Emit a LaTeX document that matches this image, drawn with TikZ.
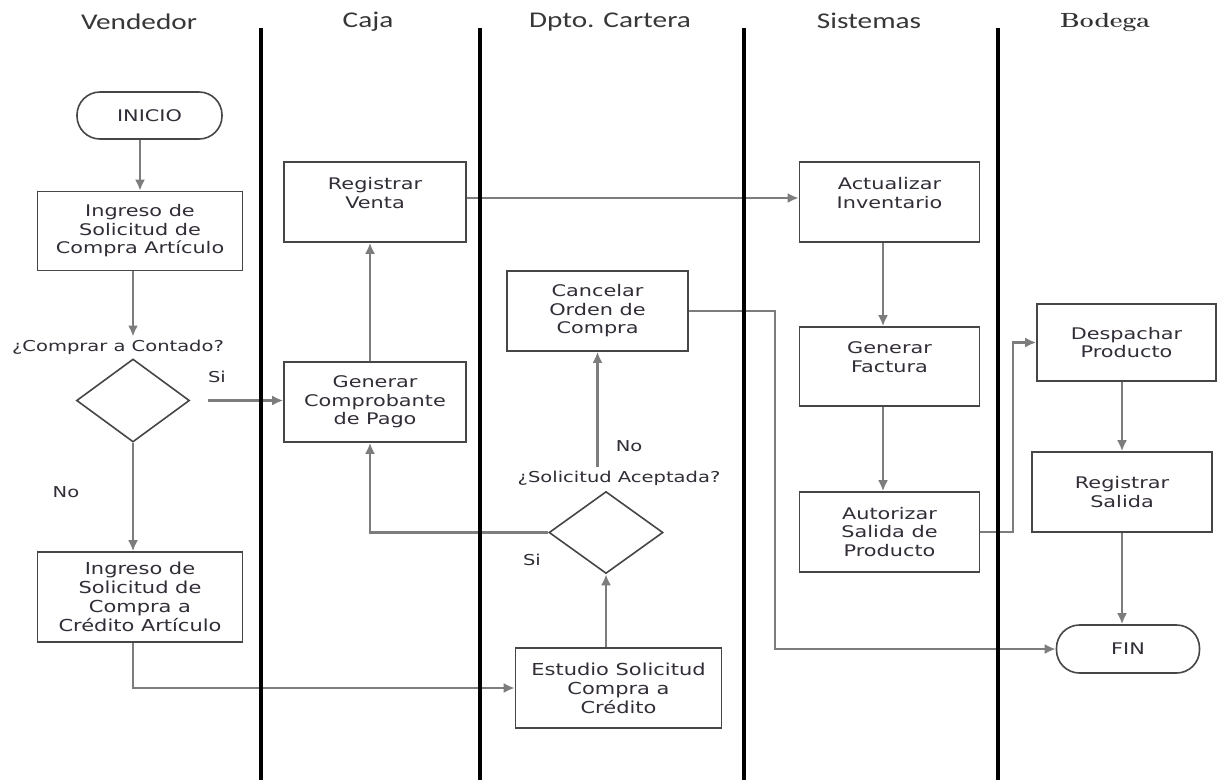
\documentclass[tikz,border=0pt]{standalone}
\usepackage{fontspec}
\usepackage{graphicx}
\usetikzlibrary{shapes.geometric,arrows.meta,calc}
\newfontfamily\vfont[FakeStretch=1.3]{DejaVu Sans}
\newfontfamily\tfont[FakeStretch=1.27]{DejaVu Sans}
\newfontfamily\hfont[FakeStretch=1.3]{Carlito}
\definecolor{boxc}{RGB}{70,70,70}
\definecolor{arrc}{RGB}{125,125,125}
\definecolor{txtc}{RGB}{50,45,55}
\definecolor{hdrc}{RGB}{55,55,55}
\begin{document}
\begin{tikzpicture}[x=1pt,y=-1pt,
  box/.style={draw=boxc, line width=1.6pt, fill=white, align=center, inner sep=0pt, text=txtc, font=\vfont\fontsize{16}{18.5}\selectfont},
  tbox/.style={box, font=\tfont\fontsize{16.5}{19}\selectfont},
  term/.style={box, rounded corners=23pt},
  dec/.style={draw=boxc, line width=1.6pt, diamond, inner sep=0pt, fill=white},
  lbl/.style={text=txtc, font=\vfont\fontsize{15}{18}\selectfont, inner sep=0pt},
  hdr/.style={text=hdrc, font=\hfont\fontsize{22.5}{24}\selectfont, inner sep=0pt},
  arr/.style={draw=arrc, line width=2.4pt, -{Latex[length=11pt,width=10pt]}},
  lane/.style={line width=3.2pt, black}]
\fill[white] (0,0) rectangle (1217,780);
\useasboundingbox (0,0) rectangle (1217,780);

% headers
\node[hdr] (h1) at (139,22) {Vendedor};
\node[hdr] (h2) at (368,22) {Caja};
\node[hdr] (h3) at (610,22) {Dpto. Cartera};
\node[hdr] (h4) at (869,21) {Sistemas};
\node[hdr, text=black!80, font=\rmfamily\bfseries\fontsize{20.5}{24}\selectfont] (h5) at (1105,22) {\scalebox{1.2}[1]{Bodega}};

% Vendedor
\node[term, minimum width=145, minimum height=47] (ini) at (149.5,115.5) {INICIO};
\node[box, minimum width=205, minimum height=79] (ing1) at (140,231) {Ingreso de\\Solicitud de\\Compra Artículo};
\node[lbl] (q1) at (118,347) {¿Comprar a Contado?};
\node[dec, minimum width=113, minimum height=83] (d1) at (133,400.5) {};
\node[lbl] (si1) at (217,377) {Si};
\node[lbl] (no1) at (66,492) {No};
\node[tbox, minimum width=205, minimum height=90] (ing2) at (140,597) {Ingreso de\\Solicitud de\\Compra a\\Crédito Artículo};

% Caja
\node[box, minimum width=182, minimum height=80] (gc) at (375,402) {Generar\\Comprobante\\de Pago};
\node[box, minimum width=182, minimum height=80] (rv) at (375,202) {Registrar\\Venta\\~};

% Cartera
\node[box, minimum width=181, minimum height=80] (can) at (597.5,311) {Cancelar\\Orden de\\Compra};
\node[lbl] (no2) at (629,446) {No};
\node[lbl] (q2) at (619,478) {¿Solicitud Aceptada?};
\node[dec, minimum width=114, minimum height=82] (d2) at (606,532.5) {};
\node[lbl] (si2) at (532,560) {Si};
\node[tbox, minimum width=206, minimum height=80] (est) at (618.5,688) {Estudio Solicitud\\Compra a\\Crédito};

% Sistemas
\node[box, minimum width=180, minimum height=80] (act) at (889.5,202) {Actualizar\\Inventario\\~};
\node[box, minimum width=180, minimum height=79] (fac) at (889.5,366.5) {Generar\\Factura\\~};
\node[box, minimum width=180, minimum height=80] (aut) at (889.5,532) {Autorizar\\Salida de\\Producto};

% Bodega
\node[box, minimum width=179, minimum height=77] (des) at (1126.5,342.5) {Despachar\\Producto};
\node[box, minimum width=180, minimum height=80] (rs) at (1122,492) {Registrar\\Salida};
\node[term, minimum width=143, minimum height=48] (fin) at (1128,649) {FIN};

% connectors
\coordinate (s1) at (208,400.5);
\coordinate (j1) at (1013,0);
\coordinate (j2) at (775,0);
\draw[arr] (ini.south -| ing1.north) -- (ing1.north);
\draw[arr, shorten >=3pt] (ing1.south -| d1) -- (q1.north -| d1);
\draw[arr] (s1) -- (s1 -| gc.west);
\draw[arr] (d1.south) -- (ing2.north -| d1.south);
\draw[arr] (ing2.south -| d1.south) |- (est.west);
\draw[arr] (est.north -| d2.south) -- (d2.south);
\draw[arr] (d2.west) -| ([xshift=-5pt]gc.south);
\draw[arr, shorten <=4pt] (q2.north -| can.south) -- (can.south);
\draw[arr] ([xshift=-5pt]gc.north) -- ([xshift=-5pt]rv.south);
\draw[arr] ([yshift=4pt]rv.east) -- ([yshift=4pt]act.west);
\draw[arr] (act.south -| 883,0) -- (fac.north -| 883,0);
\draw[arr] (fac.south -| 883,0) -- (aut.north -| 883,0);
\draw[arr] (aut.east) -- (aut.east -| j1) |- (des.west);
\draw[arr] (des.south -| rs) -- (rs.north);
\draw[arr] (rs.south) -- (rs.south |- fin.north);
\draw[arr] (can.east) -- (can.east -| j2) |- (fin.west);

% lanes
\draw[lane] (261,28) -- (261,780);
\draw[lane] (480,28) -- (480,780);
\draw[lane] (744,28) -- (744,780);
\draw[lane] (998,28) -- (998,780);
\end{tikzpicture}
\end{document}
